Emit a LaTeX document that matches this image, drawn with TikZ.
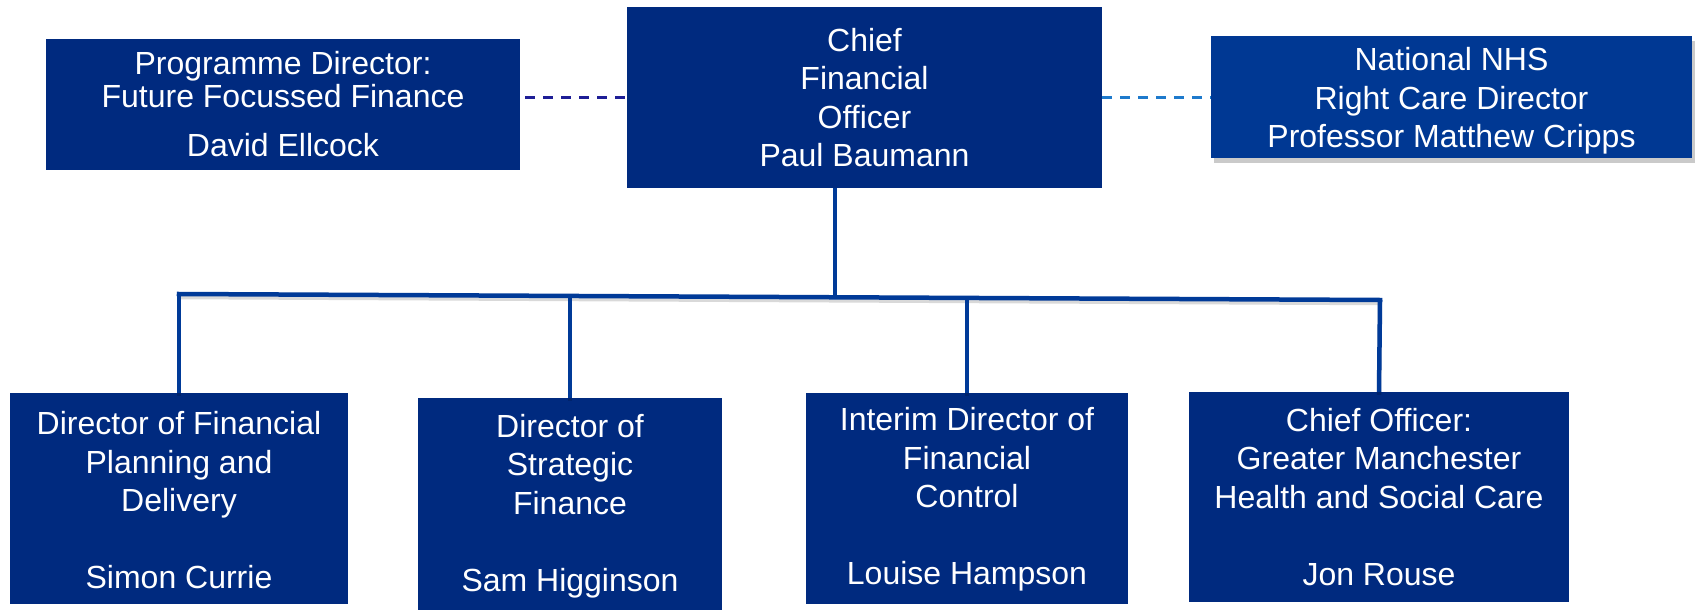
\documentclass[tikz,border=0pt]{standalone}
\usepackage{fontspec}
\setmainfont{Liberation Sans}
\usetikzlibrary{shadows}
\definecolor{navy}{RGB}{0,42,127}
\definecolor{navylight}{RGB}{0,56,147}
\definecolor{connblue}{RGB}{0,58,152}
\definecolor{dashdark}{RGB}{30,30,150}
\definecolor{dashlight}{RGB}{30,122,204}
\tikzset{
  orgbox/.style={fill=navy, text=white, align=center, inner sep=0pt,
    font=\fontsize{32}{38.5}\selectfont},
  orgtext/.style={text=white, align=center, inner sep=0pt,
    font=\fontsize{32}{38.5}\selectfont},
  conn/.style={draw=connblue, line width=4.5pt,
    preaction={draw=black, opacity=0.15, line width=4.5pt, transform canvas={yshift=-3pt}}},
  dashlink/.style={line width=3pt, dash pattern=on 10pt off 8pt},
}
\begin{document}
\begin{tikzpicture}[x=1pt,y=-1pt]
\useasboundingbox (0,0) rectangle (1698,610);

% top row
\node[orgbox, minimum width=475pt, minimum height=181pt] (cfo) at (864.5,97.5)
  {Chief\\Financial\\Officer\\Paul Baumann};
\node[orgbox, minimum width=474pt, minimum height=131pt,
      font=\fontsize{32}{33}\selectfont] (prog) at (283,104.5)
  {Programme Director:\\Future Focussed Finance\\[16pt]David Ellcock};
\node[orgbox, fill=navylight, minimum width=481pt, minimum height=122pt,
      drop shadow={shadow xshift=3pt, shadow yshift=-5pt, opacity=0.35, fill=black!60}] (nat) at (1451.5,97) {};
\node[orgtext] (natt) at ([yshift=-4pt]nat.center)
  {National NHS\\Right Care Director\\Professor Matthew Cripps};

% bottom row
\node[orgbox, minimum width=338pt, minimum height=211pt] (b1) at (179,498.5) {};
\node[orgtext] (b1t) at ([yshift=-2pt]b1.center)
  {Director of Financial\\Planning and\\Delivery\\[38.5pt]Simon Currie};
\node[orgbox, minimum width=304pt, minimum height=212pt] (b2) at (570,504) {};
\node[orgtext] (b2t) at ([yshift=-2pt]b2.center)
  {Director of\\Strategic\\Finance\\[38.5pt]Sam Higginson};
\node[orgbox, minimum width=322pt, minimum height=211pt] (b3) at (967,498.5) {};
\node[orgtext] (b3t) at ([yshift=-1pt]b3.center)
  {Interim Director of\\Financial\\Control\\[38.5pt]Louise Hampson};
\node[orgbox, minimum width=380pt, minimum height=210pt] (b4) at (1379,497)
  {Chief Officer:\\Greater Manchester\\Health and Social Care\\[38.5pt]Jon Rouse};

% dashed links
\draw[dashlink, draw=dashdark] (prog.east |- 0,97) ++(5,0) coordinate (pd) -- (cfo.west |- pd);
\draw[dashlink, draw=dashlight] (cfo.east |- 0,97) -- (nat.west |- 0,97);

% tree connectors
\coordinate (jL) at (179,294);
\coordinate (jC) at (835,296);
\coordinate (j2) at (570,297);
\coordinate (j3) at (967,298);
\coordinate (jR) at (1380,300);
\draw[conn] (cfo.south -| jC) -- (jC);
\draw[conn, line cap=rect] (jL) -- (jR);
\draw[conn] (jL) -- (b1.north);
\draw[conn] (j2) -- (b2.north);
\draw[conn] (j3) -- (b3.north);
\draw[conn] (jR) -- (b4.north);
\end{tikzpicture}
\end{document}
